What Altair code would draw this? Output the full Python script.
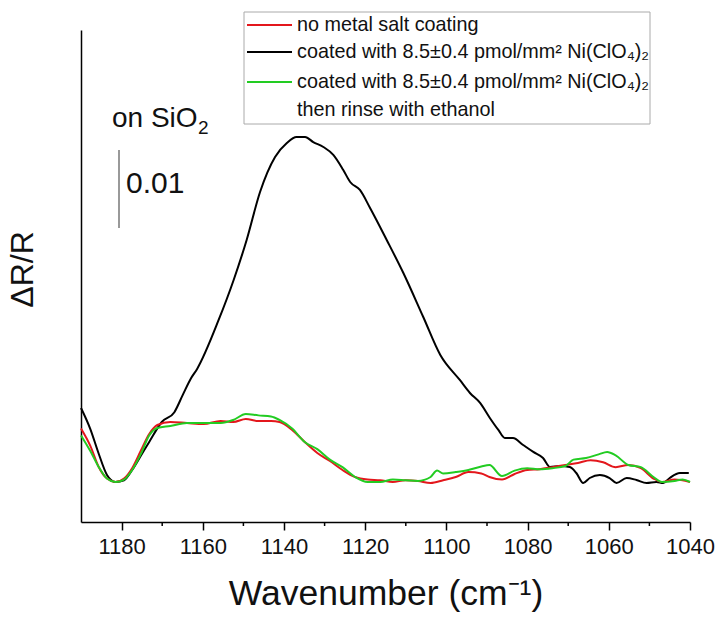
import altair as alt
import pandas as pd

# ---------------- data (ΔR/R in units of 1e-3, wavenumber in cm^-1) -------------
wn_red = [1190, 1187.7, 1185.7, 1183.6, 1181.5, 1179.4, 1177.4, 1175.3, 1173.2, 1171.2,
          1168, 1163.9, 1159.8, 1155.6, 1152.5, 1149.4, 1146.3, 1143.2, 1141.1, 1138,
          1134.9, 1131.8, 1128.7, 1125.6, 1122.5, 1119.4, 1116.3, 1113.2, 1110.1, 1107,
          1103.9, 1100.8, 1097.7, 1094.6, 1091.4, 1089.4, 1086.3, 1083.2, 1080.1, 1077,
          1073.9, 1070.7, 1067.6, 1064.5, 1061.4, 1058.3, 1055.2, 1052.1, 1049, 1046.9,
          1043.8, 1040]
val_red = [6.85, 4.62, 1.99, 0.44, 0.0, 0.44, 1.77, 3.97, 6.15, 7.31,
           7.69, 7.56, 7.44, 7.82, 7.69, 8.08, 7.82, 7.82, 7.69, 6.67,
           5.13, 3.72, 2.69, 1.54, 0.64, 0.31, 0.22, 0.0, 0.22, 0.13,
           -0.13, 0.22, 0.64, 1.28, 1.10, 0.64, 0.31, 1.03, 1.54, 1.64,
           1.90, 2.18, 2.44, 2.78, 2.53, 1.90, 2.18, 1.77, 0.44, 0.0,
           0.31, 0.0]

wn_black = [1190, 1187.7, 1185.7, 1183.6, 1181.5, 1179.4, 1177.4, 1175.3, 1173.2, 1170.1,
            1167, 1164.9, 1162.9, 1161.4, 1156.1, 1152.4, 1149.2, 1145.9, 1142.2, 1139.3,
            1136.9, 1134.8, 1132.8, 1130.3, 1127.8, 1125.4, 1123.7, 1121.3, 1118.8, 1114.7,
            1110.6, 1105.7, 1101.5, 1096.7, 1094.2, 1091.7, 1089.3, 1087.2, 1085.6, 1083.6,
            1081.1, 1078.6, 1076.2, 1074.5, 1072.1, 1069.6, 1068, 1066.3, 1064.7, 1062.2,
            1059.8, 1058.1, 1055.6, 1053.2, 1050.7, 1048.3, 1046.6, 1045, 1042.5, 1040.3]
val_black = [9.49, 6.79, 3.72, 0.90, 0.0, 0.22, 1.54, 3.33, 5.13, 7.69,
             8.95, 11.2, 13.3, 14.5, 20.77, 25.90, 31.03, 37.18, 41.67, 43.46,
             44.23, 44.23, 43.59, 42.95, 41.92, 40.00, 38.46, 37.44, 35.13, 31.03,
             26.79, 21.15, 16.28, 13.08, 11.41, 10.13, 8.21, 6.67, 5.64, 5.64,
             4.74, 3.85, 3.08, 1.92, 2.05, 1.92, 1.15, -0.13, 0.51, 0.90,
             0.51, -0.13, 0.51, 0.26, -0.13, 0.0, -0.13, 0.51, 1.15, 1.15]

wn_green = [1190, 1187.7, 1185.7, 1183.6, 1181.5, 1179.4, 1177.4, 1175.3, 1173.2, 1171.2,
            1168, 1163.9, 1159.8, 1155.6, 1152.5, 1149.4, 1146.3, 1143.2, 1141.1, 1138,
            1134.9, 1131.8, 1128.7, 1125.6, 1122.5, 1119.4, 1116.3, 1113.2, 1110.1, 1107,
            1103.9, 1102.3, 1100.8, 1097.7, 1094.6, 1091.4, 1089.4, 1086.3, 1083.2, 1080.1,
            1077, 1073.9, 1070.7, 1068.7, 1065.6, 1062.5, 1060.4, 1058.3, 1055.2, 1052.1,
            1049, 1046.9, 1043.8, 1041.8, 1040]
val_green = [5.97, 3.97, 1.99, 0.44, 0.0, 0.31, 1.54, 3.54, 5.97, 6.92,
             7.18, 7.56, 7.56, 7.56, 7.95, 8.72, 8.54, 8.40, 7.95, 6.85,
             5.13, 4.21, 2.87, 1.90, 0.64, 0.0, 0.0, 0.31, 0.22, 0.13,
             0.64, 1.46, 1.10, 1.28, 1.54, 1.99, 2.18, 0.76, 1.46, 1.77,
             1.64, 1.77, 2.05, 2.87, 3.08, 3.54, 3.85, 3.41, 2.18, 1.90,
             0.64, 0.0, 0.13, 0.31, 0.0]

series_names = ["no metal salt coating",
                "coated with 8.5\u00b10.4 pmol/mm\u00b2 Ni(ClO\u2084)\u2082",
                "coated with 8.5\u00b10.4 pmol/mm\u00b2 Ni(ClO\u2084)\u2082, rinsed"]
series_colors = ["#e3171c", "#000000", "#22cc22"]
legend_lines = ["no metal salt coating",
                "coated with 8.5\u00b10.4 pmol/mm\u00b2 Ni(ClO\u2084)\u2082",
                "coated with 8.5\u00b10.4 pmol/mm\u00b2 Ni(ClO\u2084)\u2082",
                "then rinse with ethanol"]

x_major_ticks = [1180, 1160, 1140, 1120, 1100, 1080, 1060, 1040]
x_minor_ticks = [1170, 1150, 1130, 1110, 1090, 1070, 1050]
scale_bar = [32.56, 42.56]   # 0.01 ΔR/R = 10 units
# -------------------------------------------------------------------------------

FONT = "Liberation Sans"
W, H = 609, 492

frames = []
for name, wn, v in [(series_names[0], wn_red, val_red),
                    (series_names[1], wn_black, val_black),
                    (series_names[2], wn_green, val_green)]:
    frames.append(pd.DataFrame({"series": name, "wn": wn, "v": v}))
df = pd.concat(frames, ignore_index=True)

x_scale = alt.Scale(domain=[1040, 1190], reverse=True, nice=False, zero=False)
y_scale = alt.Scale(domain=[-5.13, 57.95], nice=False, zero=False)

x_axis = alt.Axis(values=x_major_ticks, format="d", tickSize=8, tickWidth=1.5,
                  tickColor="#000", domainColor="#000", domainWidth=1.5,
                  labelFont=FONT, labelFontSize=22, labelColor="#111", labelPadding=6,
                  labelFlush=False, labelOverlap=False,
                  grid=False, title="Wavenumber (cm\u207b\u00b9)", titleFont=FONT,
                  titleFontSize=35.5, titleFontWeight="normal", titleColor="#111",
                  titlePadding=19)
y_axis = alt.Axis(ticks=False, labels=False, grid=False, domainColor="#000",
                  domainWidth=1.5, title="\u0394R/R", titleFont=FONT, titleFontSize=32,
                  titleFontWeight="normal", titleColor="#111", titlePadding=42,
                  titleY=239)

layers = []
for i in [1, 0, 2]:
    layers.append(
        alt.Chart(df).transform_filter(alt.datum.series == series_names[i])
        .mark_line(color=series_colors[i], strokeWidth=2, interpolate="monotone")
        .encode(x=alt.X("wn:Q", scale=x_scale, axis=x_axis),
                y=alt.Y("v:Q", scale=y_scale, axis=y_axis))
    )

minor = alt.Chart(pd.DataFrame({"wn": x_minor_ticks})).mark_rule(
    color="#000", strokeWidth=1.5).encode(
    x=alt.X("wn:Q", scale=x_scale, axis=x_axis),
    y=alt.value(H), y2=alt.value(H + 4))

bar = alt.Chart(pd.DataFrame({"v": [scale_bar[0]], "v2": [scale_bar[1]]})).mark_rule(
    color="#777", strokeWidth=1.5).encode(
    x=alt.value(38), y=alt.Y("v:Q", scale=y_scale, axis=y_axis), y2="v2:Q")

bar_label = alt.Chart(pd.DataFrame({"t": ["0.01"]})).mark_text(
    font=FONT, fontSize=30, align="left", baseline="alphabetic", color="#111").encode(
    x=alt.value(45), y=alt.value(163), text="t:N")

sio2 = alt.Chart(pd.DataFrame({"t": ["on SiO"]})).mark_text(
    font=FONT, fontSize=28, align="left", baseline="alphabetic", color="#111").encode(
    x=alt.value(31), y=alt.value(97), text="t:N")
sio2_sub = alt.Chart(pd.DataFrame({"t": ["2"]})).mark_text(
    font=FONT, fontSize=19, align="left", baseline="alphabetic", color="#111").encode(
    x=alt.value(117), y=alt.value(104), text="t:N")

# legend box
box = alt.Chart(pd.DataFrame({"k": [0]})).mark_rect(
    fill="white", stroke="#aaaaaa", strokeWidth=1).encode(
    x=alt.value(163), x2=alt.value(569), y=alt.value(-18), y2=alt.value(94))
layers_leg = [box]
row_y = [-5, 22, 52, 80]
for j, txt in enumerate(legend_lines):
    layers_leg.append(alt.Chart(pd.DataFrame({"t": [txt]})).mark_text(
        font=FONT, fontSize=19.8, align="left", baseline="middle", color="#111").encode(
        x=alt.value(216), y=alt.value(row_y[j]), text="t:N"))
for j, col in enumerate(series_colors):
    layers_leg.append(alt.Chart(pd.DataFrame({"k": [j]})).mark_rule(
        color=col, strokeWidth=2).encode(
        x=alt.value(166), x2=alt.value(211), y=alt.value(row_y[j])))

chart = alt.layer(*layers, minor, bar, bar_label, sio2, sio2_sub, *layers_leg).properties(
    width=W, height=H, background="white",
    padding={"left": 81, "top": 30, "right": 30, "bottom": 95},
    autosize=alt.AutoSizeParams(type="none"),
).configure_view(stroke=None)

chart.save("out.html", embed_options={"renderer": "svg", "actions": False})
